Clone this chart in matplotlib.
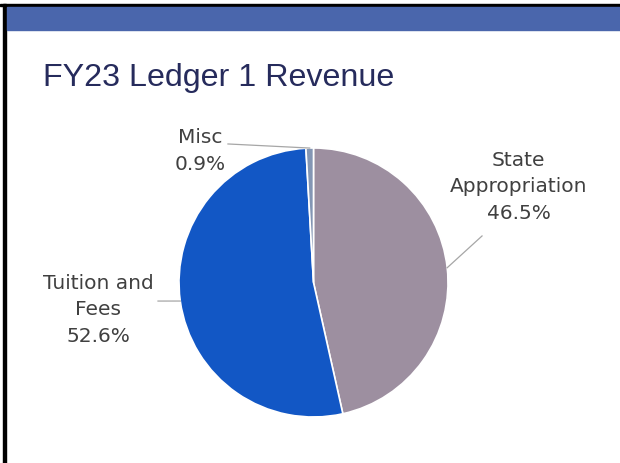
import numpy as np
import matplotlib
matplotlib.use('Agg')
import matplotlib.pyplot as plt
from matplotlib.patches import Rectangle

# data
labels = ['State\nAppropriation', 'Tuition and\nFees', 'Misc']
shares = [46.5, 52.6, 0.9]
colors = ['#9D8FA0', '#1257C5', '#8396B4']

# label text centres and leader knee points (data coords of pie axes)
label_pos = [(1.524, 0.72), (-1.60, -0.197), (-0.844, 0.985)]
knee_pos = [(1.253, 0.346), (-1.156, -0.138), (-0.636, 1.03)]

plt.rcParams['font.family'] = ['Liberation Sans', 'DejaVu Sans']

W, H = 620, 464
fig = plt.figure(figsize=(W / 100, H / 100), dpi=100)

# slide frame: top rule, left rule and blue header band
fig.patches.append(Rectangle((0, 1 - 7 / H), 1, 2 / H, transform=fig.transFigure,
                             color='black', zorder=0))
fig.patches.append(Rectangle((3 / W, 0), 3 / W, 1 - 5 / H, transform=fig.transFigure,
                             color='black', zorder=0))
fig.patches.append(Rectangle((7 / W, 1 - 31 / H), 1, 23 / H, transform=fig.transFigure,
                             color='#4A66AC', zorder=0))

fig.text(43 / W, 1 - 86 / H, 'FY23 Ledger 1 Revenue', fontsize=23.2,
         color='#262B5C', va='baseline', ha='left')

# pie axes: centre (313.5, 283.5) px, radius 134.5 px
r = 134.5
ax = fig.add_axes([(313.5 - r) / W, (464 - 283.5 - r) / H, 2 * r / W, 2 * r / H])
wedges, _ = ax.pie(shares, colors=colors, startangle=90, counterclock=False,
                   wedgeprops=dict(edgecolor='white', linewidth=1.2))
ax.set_xlim(-1, 1)
ax.set_ylim(-1, 1)
ax.set_aspect('equal')
ax.axis('off')

for w, lab, val, (tx, ty), (kx, ky) in zip(wedges, labels, shares, label_pos, knee_pos):
    mid = np.deg2rad((w.theta1 + w.theta2) / 2)
    ex, ey = np.cos(mid), np.sin(mid)
    ax.plot([kx, ex], [ky, ey], color='#A6A6A6', lw=0.9, clip_on=False)
    ax.text(tx, ty, f'{lab}\n{val:.1f}%', ha='center', va='center', fontsize=14.5,
            family=['DejaVu Sans'], color='#404040', linespacing=1.5, clip_on=False)

fig.savefig('out.png', dpi=100)
